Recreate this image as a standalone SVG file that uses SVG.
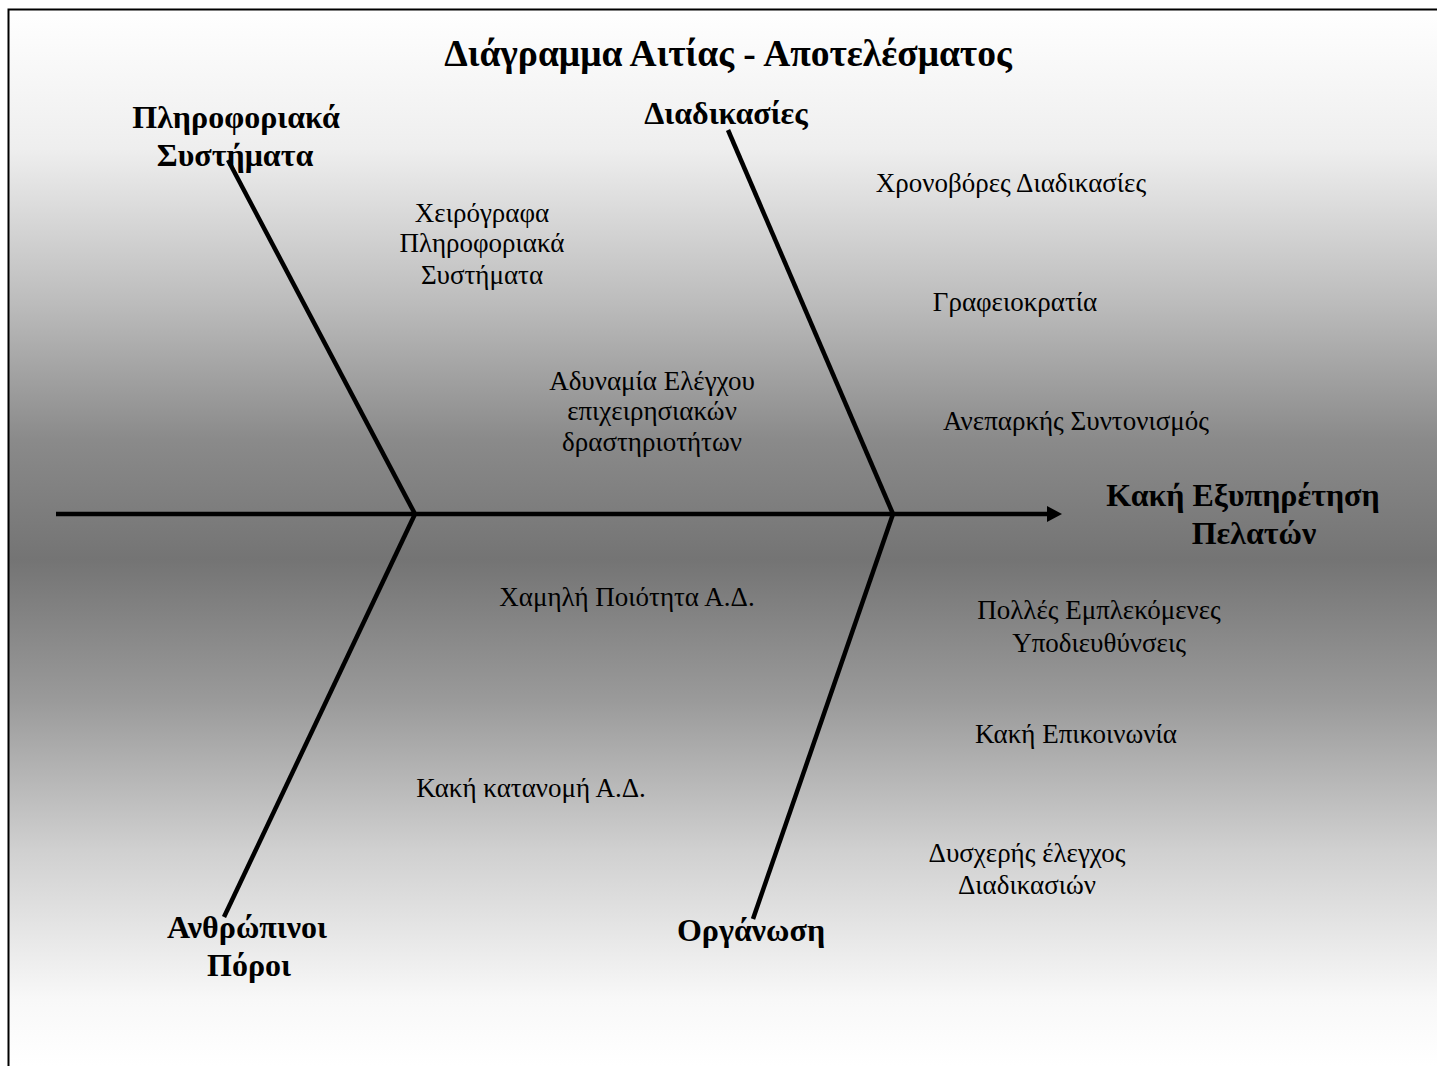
<svg xmlns="http://www.w3.org/2000/svg" width="1437" height="1066" viewBox="0 0 1437 1066">
  <defs>
    <linearGradient id="bg" gradientUnits="userSpaceOnUse" x1="0" y1="9" x2="0" y2="1066">
      <stop offset="0" stop-color="#ffffff"/>
      <stop offset="0.133" stop-color="#eeeeee"/>
      <stop offset="0.275" stop-color="#bdbdbd"/>
      <stop offset="0.408" stop-color="#8a8a8a"/>
      <stop offset="0.521" stop-color="#747474"/>
      <stop offset="0.654" stop-color="#9a9a9a"/>
      <stop offset="0.796" stop-color="#d0d0d0"/>
      <stop offset="0.937" stop-color="#f8f8f8"/>
      <stop offset="1" stop-color="#ffffff"/>
    </linearGradient>
    <marker id="head" markerUnits="userSpaceOnUse" markerWidth="16" markerHeight="18" refX="1" refY="9" orient="auto">
      <path d="M0,1 L15,9 L0,17 Z" fill="#000"/>
    </marker>
    <style>
      .bone { stroke: #000; stroke-width: 4.5; fill: none; stroke-linecap: butt; }
      .title { font-family: "Liberation Serif", "DejaVu Serif", serif; font-weight: bold; font-size: 37.5px; fill: #000; text-anchor: middle; }
      .cat { font-family: "Liberation Serif", "DejaVu Serif", serif; font-weight: bold; font-size: 32px; fill: #000; text-anchor: middle; }
      .cause { font-family: "Liberation Serif", "DejaVu Serif", serif; font-size: 27px; fill: #000; text-anchor: middle; }
    </style>
  </defs>

  <!-- framed background -->
  <rect x="8.5" y="9.5" width="1440" height="1070" fill="url(#bg)" stroke="#000" stroke-width="2"/>

  <text class="title" x="728" y="66">Διάγραμμα Αιτίας - Αποτελέσματος</text>

  <!-- spine and bones -->
  <g id="connectors">
    <line class="bone" x1="56" y1="514" x2="1048" y2="514" marker-end="url(#head)"/>
    <line class="bone" x1="228" y1="160" x2="415" y2="514"/>
    <line class="bone" x1="415" y1="514" x2="224" y2="917"/>
    <line class="bone" x1="728" y1="130" x2="893" y2="514"/>
    <line class="bone" x1="893" y1="514" x2="753" y2="919"/>
  </g>

  <g id="effect">
    <text class="cat" x="1243" y="506">Κακή Εξυπηρέτηση</text>
    <text class="cat" x="1254" y="544">Πελατών</text>
  </g>

  <g id="cat-info-systems">
    <text class="cat" x="236" y="128">Πληροφοριακά</text>
    <text class="cat" x="235" y="166">Συστήματα</text>
  </g>
  <g id="cat-procedures">
    <text class="cat" x="726" y="124">Διαδικασίες</text>
  </g>
  <g id="cat-human-resources">
    <text class="cat" x="247" y="938">Ανθρώπινοι</text>
    <text class="cat" x="249" y="976">Πόροι</text>
  </g>
  <g id="cat-organisation">
    <text class="cat" x="751" y="941">Οργάνωση</text>
  </g>

  <g id="cause-manual-is">
    <text class="cause" x="482" y="222">Χειρόγραφα</text>
    <text class="cause" x="482" y="252">Πληροφοριακά</text>
    <text class="cause" x="482" y="284">Συστήματα</text>
  </g>
  <g id="cause-control">
    <text class="cause" x="652" y="390">Αδυναμία Ελέγχου</text>
    <text class="cause" x="652" y="420">επιχειρησιακών</text>
    <text class="cause" x="652" y="451">δραστηριοτήτων</text>
  </g>
  <g id="cause-slow">
    <text class="cause" x="1011" y="192">Χρονοβόρες Διαδικασίες</text>
  </g>
  <g id="cause-bureaucracy">
    <text class="cause" x="1015" y="311">Γραφειοκρατία</text>
  </g>
  <g id="cause-coordination">
    <text class="cause" x="1076" y="430">Ανεπαρκής Συντονισμός</text>
  </g>
  <g id="cause-quality">
    <text class="cause" x="627" y="606">Χαμηλή Ποιότητα Α.Δ.</text>
  </g>
  <g id="cause-allocation">
    <text class="cause" x="531" y="797">Κακή κατανομή Α.Δ.</text>
  </g>
  <g id="cause-departments">
    <text class="cause" x="1099" y="619">Πολλές Εμπλεκόμενες</text>
    <text class="cause" x="1099" y="652">Υποδιευθύνσεις</text>
  </g>
  <g id="cause-communication">
    <text class="cause" x="1076" y="743">Κακή Επικοινωνία</text>
  </g>
  <g id="cause-control-proc">
    <text class="cause" x="1027" y="862">Δυσχερής έλεγχος</text>
    <text class="cause" x="1027" y="894">Διαδικασιών</text>
  </g>
</svg>
